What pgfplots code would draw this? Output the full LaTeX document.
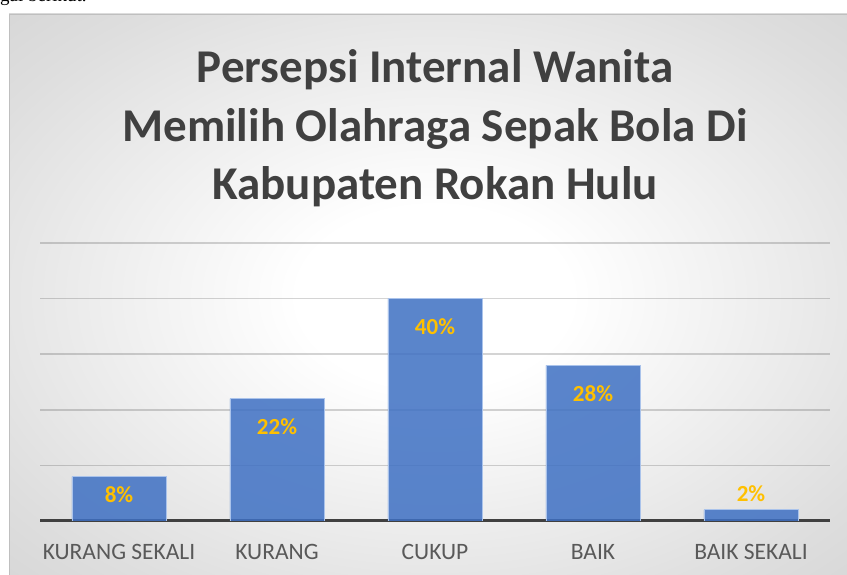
\documentclass[border=0pt]{standalone}
\usepackage{pgfplots}
\pgfplotsset{compat=1.18}
\usepackage{fontspec}
\setmainfont{Carlito}
\newfontfamily\timesfont{Liberation Serif}
\definecolor{barblue}{RGB}{62,112,195}
\definecolor{baredge}{RGB}{170,195,235}
\definecolor{titlegray}{RGB}{64,64,64}
\definecolor{labgray}{RGB}{89,89,89}
\definecolor{gold}{RGB}{255,192,0}
\definecolor{bgmid}{RGB}{222,222,222}
\definecolor{bgout}{RGB}{198,198,198}
\definecolor{bgcorner}{RGB}{188,188,188}
\pgfdeclareradialshading{chartbg}{\pgfpoint{0bp}{0bp}}{%
  color(0bp)=(white); color(8bp)=(white); color(30bp)=(bgmid); color(50bp)=(bgout); color(72bp)=(bgcorner)}
\begin{document}
\begin{tikzpicture}[x=1pt,y=1pt]
\clip (0,0) rectangle (847,575);
\fill[white] (0,0) rectangle (847,575);
\node[anchor=base west, inner sep=0pt, font=\timesfont\fontsize{19}{19}\selectfont] at (0,573) {gai berikut.};
\shade[shading=chartbg, shading angle=0] (9,-5) rectangle (860,561);
\draw[color=black!25, line width=0.8pt] (9,-5) rectangle (860,561);
\node[anchor=base, font=\fontsize{47}{47}\selectfont\bfseries, text=titlegray, inner sep=0pt] at (435,492) {Persepsi Internal Wanita};
\node[anchor=base, font=\fontsize{47}{47}\selectfont\bfseries, text=titlegray, inner sep=0pt] at (435,433) {Memilih Olahraga Sepak Bola Di};
\node[anchor=base, font=\fontsize{47}{47}\selectfont\bfseries, text=titlegray, inner sep=0pt] at (435,375) {Kabupaten Rokan Hulu};
\begin{axis}[
  at={(40pt,54pt)}, anchor=south west,
  scale only axis, width=790pt, height=278pt,
  xmin=-0.5, xmax=4.5, ymin=0, ymax=50,
  axis line style={draw=none},
  ytick={10,20,30,40,50}, yticklabels={},
  ymajorgrids, grid style={draw=black, draw opacity=0.17, line width=1.5pt},
  extra y ticks={0}, extra y tick labels={},
  extra y tick style={grid style={draw=titlegray, draw opacity=1, line width=3pt}},
  major tick length=0pt,
  xtick=data,
  xticklabels={KURANG SEKALI, KURANG, CUKUP, BAIK, BAIK SEKALI},
  xticklabel style={anchor=base, yshift=-39pt, font=\fontsize{23.5}{23.5}\selectfont, text=labgray},
  /pgf/number format/assume math mode=true,
  ]
\addplot[ybar, bar width=94pt, fill=barblue, fill opacity=0.85, draw=baredge, line width=0.8pt,
  visualization depends on=y \as \rawy,
  nodes near coords={\pgfmathprintnumber[assume math mode=true]{\pgfplotspointmeta}\%},
  nodes near coords style={anchor=center, text=gold, text opacity=1, font=\fontsize{23}{23}\selectfont\bfseries,
    yshift={ifthenelse(\rawy<5,16,ifthenelse(\rawy<10,-18,-28))}},
  ] coordinates {(0,8) (1,22) (2,40) (3,28) (4,2)};
\end{axis}
\end{tikzpicture}
\end{document}
